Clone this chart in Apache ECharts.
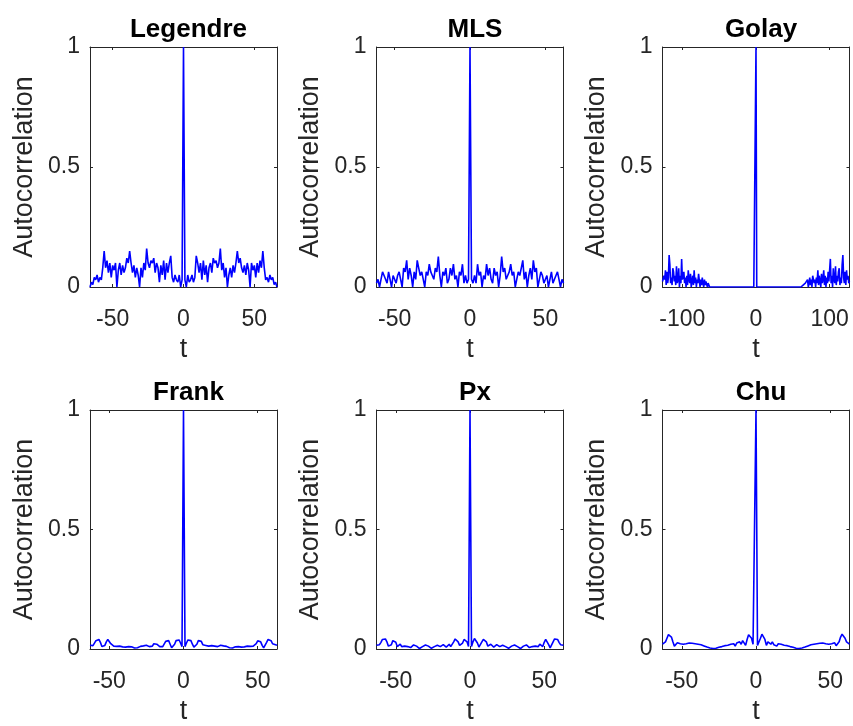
<!DOCTYPE html>
<html><head><meta charset="utf-8">
<script src="https://cdn.jsdelivr.net/npm/echarts@6/dist/echarts.min.js"></script>
<style>html,body{margin:0;padding:0;background:#fff}#c{width:853px;height:726px}</style>
</head><body><div id="c"></div>
<script>
// ---- Data ----
const panelTitles = ['Legendre', 'MLS', 'Golay', 'Frank', 'Px', 'Chu'];
const xLabel = 't';
const yLabel = 'Autocorrelation';
const yTickValues = [0, 0.5, 1];
const xTicksDefault = [-50, 0, 50];
const xTicksGolay = [-100, 0, 100];

// lags -66..66
const legendre = [0, 0.02, 0.01, 0.04, 0.03, 0.05, 0.02, 0.04, 0.03, 0.08, 0.15, 0.08, 0.11, 0.06, 0.1, 0.04, 0.09, 0.07, 0.1, 0, 0.07, 0.1, 0.05, 0.09, 0.06, 0.08, 0.12, 0.1, 0.15, 0.1, 0.06, 0.09, 0.04, 0.08, 0.05, 0, 0.08, 0.04, 0.1, 0.07, 0.16, 0.1, 0.08, 0.11, 0.1, 0.12, 0.06, 0.1, 0.08, 0.02, 0.09, 0.05, 0.11, 0.03, 0.1, 0.06, 0.1, 0.13, 0.04, 0.02, 0.05, 0.03, 0.02, 0.05, 0, 0.03,
  1,
  0.03, 0, 0.05, 0.02, 0.03, 0.05, 0.02, 0.04, 0.13, 0.1, 0.06, 0.1, 0.03, 0.11, 0.05, 0.09, 0.02, 0.08, 0.1, 0.06, 0.12, 0.1, 0.11, 0.08, 0.1, 0.16, 0.07, 0.1, 0.04, 0.08, 0, 0.05, 0.08, 0.04, 0.09, 0.06, 0.1, 0.15, 0.1, 0.12, 0.08, 0.06, 0.09, 0.05, 0.1, 0.07, 0, 0.1, 0.07, 0.09, 0.04, 0.1, 0.06, 0.11, 0.08, 0.15, 0.08, 0.03, 0.04, 0.02, 0.05, 0.03, 0.04, 0.01, 0.02, 0];

// lags -62..62
const mls = [0.016, 0.032, 0, 0.032, 0.063, 0.048, 0.032, 0.016, 0.063, 0.032, 0, 0.048, 0.032, 0.016, 0.048, 0.063, 0.032, 0, 0.079, 0.063, 0.111, 0.032, 0.079, 0.048, 0, 0.063, 0.032, 0.111, 0.079, 0.048, 0.063, 0.032, 0, 0.063, 0.048, 0.095, 0.063, 0.048, 0.032, 0.079, 0.063, 0.127, 0.048, 0, 0.063, 0.048, 0.079, 0.016, 0.032, 0.079, 0.048, 0.095, 0.032, 0.048, 0, 0.063, 0.048, 0.095, 0.016, 0.048, 0.016, 0.032,
  1,
  0.032, 0.016, 0.048, 0.016, 0.095, 0.048, 0.063, 0, 0.048, 0.032, 0.095, 0.048, 0.079, 0.032, 0.016, 0.079, 0.048, 0.063, 0, 0.048, 0.127, 0.063, 0.079, 0.032, 0.048, 0.063, 0.095, 0.048, 0.063, 0, 0.032, 0.063, 0.048, 0.079, 0.111, 0.032, 0.063, 0, 0.048, 0.079, 0.032, 0.111, 0.063, 0.079, 0, 0.032, 0.063, 0.048, 0.016, 0.032, 0.048, 0, 0.032, 0.063, 0.016, 0.032, 0.048, 0.063, 0.032, 0, 0.032, 0.016];

// lags -127..127
const golay = [0.023, 0.016, 0.047, 0.031, 0.07, 0.008, 0.063, 0.016, 0.039, 0.133, 0.094, 0.016, 0.039, 0.008, 0.078, 0.063, 0.023, 0.047, 0.008, 0.086, 0.016, 0.031, 0.078, 0, 0.047, 0.016, 0.117, 0.031, 0.023, 0.063, 0.016, 0.039, 0, 0.047, 0.008, 0.07, 0.031, 0.016, 0.055, 0, 0.023, 0.047, 0.008, 0.07, 0.016, 0.039, 0, 0.031, 0.016, 0.055, 0.047, 0, 0.031, 0.008, 0.039, 0.016, 0, 0.031, 0.008, 0.023, 0.016, 0, 0.016, 0.008,
  0, 0, 0, 0, 0, 0, 0, 0, 0, 0, 0, 0, 0, 0, 0, 0, 0, 0, 0, 0, 0, 0, 0, 0, 0, 0, 0, 0, 0, 0, 0, 0, 0, 0, 0, 0, 0, 0, 0, 0, 0, 0, 0, 0, 0, 0, 0, 0, 0, 0, 0, 0, 0, 0, 0, 0, 0, 0, 0, 0, 0, 0, 0,
  1,
  0, 0, 0, 0, 0, 0, 0, 0, 0, 0, 0, 0, 0, 0, 0, 0, 0, 0, 0, 0, 0, 0, 0, 0, 0, 0, 0, 0, 0, 0, 0, 0, 0, 0, 0, 0, 0, 0, 0, 0, 0, 0, 0, 0, 0, 0, 0, 0, 0, 0, 0, 0, 0, 0, 0, 0, 0, 0, 0, 0, 0, 0, 0,
  0.008, 0.016, 0, 0.016, 0.023, 0.008, 0.031, 0, 0.016, 0.039, 0.008, 0.031, 0, 0.047, 0.055, 0.016, 0.031, 0, 0.039, 0.016, 0.07, 0.008, 0.047, 0.023, 0, 0.055, 0.016, 0.031, 0.07, 0.008, 0.047, 0, 0.039, 0.016, 0.063, 0.023, 0.031, 0.117, 0.016, 0.047, 0, 0.078, 0.031, 0.016, 0.086, 0.008, 0.047, 0.023, 0.063, 0.078, 0.008, 0.039, 0.016, 0.094, 0.133, 0.039, 0.016, 0.063, 0.008, 0.07, 0.031, 0.047, 0.016, 0.023];

// lags -63..63
const frank = [0.016, 0.018, 0.014, 0.022, 0.035, 0.043, 0.04, 0.028, 0.01, 0.005, 0.015, 0.03, 0.04, 0.034, 0.022, 0.016, 0.012, 0.014, 0.011, 0.016, 0.012, 0.014, 0.009, 0.013, 0.008, 0.012, 0.01, 0.006, 0.009, 0.006, 0.004, 0.007, 0.005, 0.006, 0.011, 0.008, 0.013, 0.01, 0.016, 0.012, 0.01, 0.017, 0.012, 0.022, 0.014, 0.02, 0.012, 0.01, 0.015, 0.01, 0.018, 0.032, 0.04, 0.035, 0.02, 0.005, 0.008, 0.02, 0.035, 0.042, 0.038, 0.025, 0.01,
  1,
  0.01, 0.025, 0.038, 0.042, 0.035, 0.02, 0.008, 0.005, 0.02, 0.035, 0.04, 0.032, 0.018, 0.01, 0.015, 0.01, 0.012, 0.02, 0.014, 0.022, 0.012, 0.017, 0.01, 0.012, 0.016, 0.01, 0.013, 0.008, 0.011, 0.006, 0.005, 0.007, 0.004, 0.006, 0.009, 0.006, 0.01, 0.012, 0.008, 0.013, 0.009, 0.014, 0.012, 0.016, 0.011, 0.014, 0.012, 0.016, 0.022, 0.034, 0.04, 0.03, 0.015, 0.005, 0.01, 0.028, 0.04, 0.043, 0.035, 0.022, 0.014, 0.018, 0.016];

// lags -63..63
const px = [0.016, 0.02, 0.018, 0.028, 0.04, 0.045, 0.042, 0.03, 0.012, 0.005, 0.018, 0.035, 0.04, 0.028, 0.01, 0.014, 0.02, 0.01, 0.018, 0.012, 0.016, 0.01, 0.003, 0.006, 0.013, 0.017, 0.016, 0.012, 0.006, 0.002, 0.004, 0.01, 0.015, 0.017, 0.016, 0.012, 0.006, 0.003, 0.005, 0.01, 0.014, 0.016, 0.012, 0.01, 0.012, 0.018, 0.012, 0.008, 0.015, 0.02, 0.01, 0.012, 0.03, 0.042, 0.04, 0.03, 0.015, 0.008, 0.025, 0.04, 0.044, 0.03, 0.01,
  1,
  0.01, 0.03, 0.044, 0.04, 0.025, 0.008, 0.015, 0.03, 0.04, 0.042, 0.03, 0.012, 0.01, 0.02, 0.015, 0.008, 0.012, 0.018, 0.012, 0.01, 0.012, 0.016, 0.014, 0.01, 0.005, 0.003, 0.006, 0.012, 0.016, 0.017, 0.015, 0.01, 0.004, 0.002, 0.006, 0.012, 0.016, 0.017, 0.013, 0.006, 0.003, 0.01, 0.016, 0.012, 0.018, 0.01, 0.02, 0.014, 0.01, 0.028, 0.04, 0.035, 0.018, 0.005, 0.012, 0.03, 0.042, 0.045, 0.04, 0.028, 0.018, 0.02, 0.016];

// lags -63..63
const chu = [0.02, 0.022, 0.03, 0.045, 0.06, 0.062, 0.05, 0.03, 0.012, 0.014, 0.026, 0.018, 0.022, 0.014, 0.02, 0.015, 0.022, 0.018, 0.025, 0.017, 0.024, 0.016, 0.022, 0.015, 0.02, 0.014, 0.018, 0.012, 0.013, 0.01, 0.008, 0.006, 0.004, 0.003, 0.002, 0.002, 0.003, 0.004, 0.007, 0.006, 0.01, 0.008, 0.014, 0.01, 0.016, 0.012, 0.02, 0.015, 0.022, 0.012, 0.025, 0.018, 0.03, 0.02, 0.035, 0.03, 0.015, 0.04, 0.06, 0.062, 0.045, 0.02, 0.015,
  1,
  0.015, 0.02, 0.045, 0.062, 0.06, 0.04, 0.015, 0.03, 0.035, 0.02, 0.03, 0.018, 0.025, 0.012, 0.022, 0.015, 0.02, 0.012, 0.016, 0.01, 0.014, 0.008, 0.01, 0.006, 0.007, 0.004, 0.003, 0.002, 0.002, 0.003, 0.004, 0.006, 0.008, 0.01, 0.013, 0.012, 0.018, 0.014, 0.02, 0.015, 0.022, 0.016, 0.024, 0.017, 0.025, 0.018, 0.022, 0.015, 0.02, 0.014, 0.022, 0.018, 0.026, 0.014, 0.012, 0.03, 0.05, 0.062, 0.06, 0.045, 0.03, 0.022, 0.02];

// ---- Layout / styling ----
const seriesData = [legendre, mls, golay, frank, px, chu];
const xTicksPerPanel = [xTicksDefault, xTicksDefault, xTicksGolay, xTicksDefault, xTicksDefault, xTicksDefault];
const colLeft = [90, 376.5, 662.5];
const rowTop = [47, 410];
const boxW = 187, boxH = 240;
const FONT = 'Liberation Sans, Arial, Helvetica, sans-serif';
const AX = '#262626';

const grids = [], xAxes = [], yAxes = [], series = [], titles = [];
seriesData.forEach((vals, i) => {
  const r = Math.floor(i / 3), c = i % 3;
  const maxLag = (vals.length - 1) / 2;
  grids.push({ left: colLeft[c], top: rowTop[r], width: boxW, height: boxH, containLabel: false });
  const lineStyle = { color: AX, width: 1 };
  xAxes.push({
    type: 'value', gridIndex: i, min: -maxLag, max: maxLag, position: 'bottom',
    name: xLabel, nameLocation: 'middle', nameGap: 49,
    nameTextStyle: { fontFamily: FONT, fontSize: 27, color: AX },
    axisLine: { show: true, onZero: false, lineStyle },
    axisTick: { show: true, inside: true, length: 3, lineStyle, customValues: xTicksPerPanel[i] },
    axisLabel: { show: true, margin: 21, fontFamily: FONT, fontSize: 23, color: AX, customValues: xTicksPerPanel[i] },
    splitLine: { show: false }
  });
  xAxes.push({
    type: 'value', gridIndex: i, min: -maxLag, max: maxLag, position: 'top',
    axisLine: { show: true, onZero: false, lineStyle },
    axisTick: { show: true, inside: true, length: 3, lineStyle, customValues: xTicksPerPanel[i] },
    axisLabel: { show: false }, splitLine: { show: false }
  });
  yAxes.push({
    type: 'value', gridIndex: i, min: 0, max: 1, interval: 0.5, position: 'left',
    name: yLabel, nameLocation: 'middle', nameGap: 52, nameRotate: 90,
    nameTextStyle: { fontFamily: FONT, fontSize: 27, color: AX },
    axisLine: { show: true, onZero: false, lineStyle },
    axisTick: { show: true, inside: true, length: 3, lineStyle },
    axisLabel: { show: true, margin: 10, fontFamily: FONT, fontSize: 23, color: AX,
      formatter: v => (yTickValues.indexOf(v) >= 0 ? String(v) : '') },
    splitLine: { show: false }
  });
  yAxes.push({
    type: 'value', gridIndex: i, min: 0, max: 1, interval: 0.5, position: 'right',
    axisLine: { show: true, onZero: false, lineStyle },
    axisTick: { show: true, inside: true, length: 3, lineStyle },
    axisLabel: { show: false }, splitLine: { show: false }
  });
  series.push({
    type: 'line', xAxisIndex: 2 * i, yAxisIndex: 2 * i, showSymbol: false, symbol: 'none',
    clip: true, animation: false,
    lineStyle: { color: '#0000ff', width: 1.6 },
    data: vals.map((v, k) => [k - maxLag, v])
  });
  titles.push({
    text: panelTitles[i], left: colLeft[c] + boxW / 2, top: rowTop[r] - 35, textAlign: 'center',
    textStyle: { fontFamily: FONT, fontSize: 26, fontWeight: 'bold', color: '#000' }
  });
});

const chart = echarts.init(document.getElementById('c'), null, { renderer: 'canvas' });
chart.setOption({
  backgroundColor: '#ffffff', animation: false,
  title: titles, grid: grids, xAxis: xAxes, yAxis: yAxes, series: series
});
</script>
</body></html>
